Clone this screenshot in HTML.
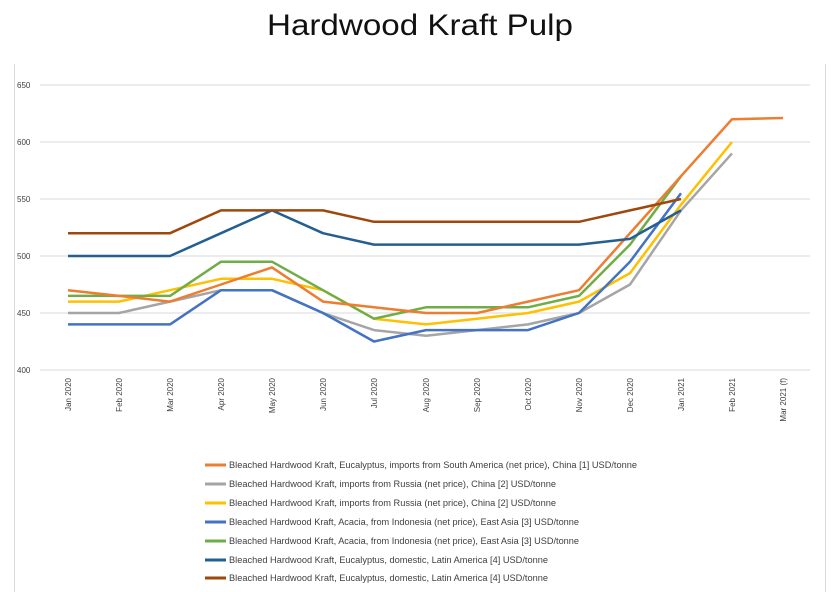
<!DOCTYPE html>
<html><head><meta charset="utf-8"><style>
body{margin:0;background:#fff;}
svg{display:block;font-family:"Liberation Sans",sans-serif;}
</style></head><body>
<svg width="835" height="592" viewBox="0 0 835 592">
<rect x="0" y="0" width="835" height="592" fill="#fff"/>
<text x="420" y="35" text-anchor="middle" font-size="30" fill="#111" textLength="306" lengthAdjust="spacingAndGlyphs">Hardwood Kraft Pulp</text>
<line x1="14.5" y1="64" x2="14.5" y2="592" stroke="#d9d9d9"/>
<line x1="825.5" y1="64" x2="825.5" y2="592" stroke="#d9d9d9"/>
<g stroke="#d9d9d9" stroke-width="1">
<line x1="40" y1="85" x2="810" y2="85"/>
<line x1="40" y1="142" x2="810" y2="142"/>
<line x1="40" y1="199" x2="810" y2="199"/>
<line x1="40" y1="256" x2="810" y2="256"/>
<line x1="40" y1="313" x2="810" y2="313"/>
<line x1="40" y1="370" x2="810" y2="370"/>
</g>
<g font-size="8" fill="#404040">
<text x="17" y="88">650</text><text x="17" y="145">600</text><text x="17" y="202">550</text>
<text x="17" y="259">500</text><text x="17" y="316">450</text><text x="17" y="373">400</text>
</g>
<g font-size="8" fill="#404040" text-anchor="end">
<text transform="translate(71,378) rotate(-90)">Jan 2020</text>
<text transform="translate(122,378) rotate(-90)">Feb 2020</text>
<text transform="translate(173,378) rotate(-90)">Mar 2020</text>
<text transform="translate(224,378) rotate(-90)">Apr 2020</text>
<text transform="translate(275,378) rotate(-90)">May 2020</text>
<text transform="translate(326,378) rotate(-90)">Jun 2020</text>
<text transform="translate(377,378) rotate(-90)">Jul 2020</text>
<text transform="translate(429,378) rotate(-90)">Aug 2020</text>
<text transform="translate(480,378) rotate(-90)">Sep 2020</text>
<text transform="translate(531,378) rotate(-90)">Oct 2020</text>
<text transform="translate(582,378) rotate(-90)">Nov 2020</text>
<text transform="translate(633,378) rotate(-90)">Dec 2020</text>
<text transform="translate(684,378) rotate(-90)">Jan 2021</text>
<text transform="translate(735,378) rotate(-90)">Feb 2021</text>
<text transform="translate(786,378) rotate(-90)">Mar 2021 (f)</text>
</g>
<g fill="none" stroke-width="2.5" stroke-linejoin="round">
<polyline stroke="#a5a5a5" points="68,313 119,313 170,301.6 221,290.2 272,290.2 323,313 374,330.1 426,335.8 477,330.1 528,324.4 579,313 630,284.5 681,210.4 732,153.4"/>
<polyline stroke="#ffc000" points="68,301.6 119,301.6 170,290.2 221,278.8 272,278.8 323,290.2 374,318.7 426,324.4 477,318.7 528,313 579,301.6 630,273.1 681,204.7 732,142"/>
<polyline stroke="#4472c4" points="68,324.4 119,324.4 170,324.4 221,290.2 272,290.2 323,313 374,341.5 426,330.1 477,330.1 528,330.1 579,313 630,261.7 681,193.3"/>
<polyline stroke="#70ad47" points="68,295.9 119,295.9 170,295.9 221,261.7 272,261.7 323,290.2 374,318.7 426,307.3 477,307.3 528,307.3 579,295.9 630,244.6 681,176.2"/>
<polyline stroke="#ed7d31" points="68,290.2 119,295.9 170,301.6 221,284.5 272,267.4 323,301.6 374,307.3 426,313 477,313 528,301.6 579,290.2 630,233.2 681,176.2 732,119.2 783,118"/>
<polyline stroke="#255e91" points="68,256 119,256 170,256 221,233.2 272,210.4 323,233.2 374,244.6 426,244.6 477,244.6 528,244.6 579,244.6 630,238.9 681,210.4"/>
<polyline stroke="#9e480e" points="68,233.2 119,233.2 170,233.2 221,210.4 272,210.4 323,210.4 374,221.8 426,221.8 477,221.8 528,221.8 579,221.8 630,210.4 681,199"/>
</g>
<g stroke-width="3">
<line x1="205" y1="465" x2="226" y2="465" stroke="#ed7d31"/>
<line x1="205" y1="484" x2="226" y2="484" stroke="#a5a5a5"/>
<line x1="205" y1="503" x2="226" y2="503" stroke="#ffc000"/>
<line x1="205" y1="522" x2="226" y2="522" stroke="#4472c4"/>
<line x1="205" y1="541" x2="226" y2="541" stroke="#70ad47"/>
<line x1="205" y1="560" x2="226" y2="560" stroke="#255e91"/>
<line x1="205" y1="578" x2="226" y2="578" stroke="#9e480e"/>
</g>
<g font-size="9" fill="#404040">
<text x="229" y="468" textLength="408" lengthAdjust="spacingAndGlyphs">Bleached Hardwood Kraft, Eucalyptus, imports from South America (net price),  China [1] USD/tonne</text>
<text x="229" y="487" textLength="327" lengthAdjust="spacingAndGlyphs">Bleached Hardwood Kraft, imports from Russia (net price),  China [2] USD/tonne</text>
<text x="229" y="506" textLength="327" lengthAdjust="spacingAndGlyphs">Bleached Hardwood Kraft, imports from Russia (net price),  China [2] USD/tonne</text>
<text x="229" y="525" textLength="350" lengthAdjust="spacingAndGlyphs">Bleached Hardwood Kraft, Acacia, from Indonesia (net price),  East Asia [3] USD/tonne</text>
<text x="229" y="544" textLength="350" lengthAdjust="spacingAndGlyphs">Bleached Hardwood Kraft, Acacia, from Indonesia (net price),  East Asia [3] USD/tonne</text>
<text x="229" y="563" textLength="319" lengthAdjust="spacingAndGlyphs">Bleached Hardwood Kraft, Eucalyptus, domestic,  Latin America [4] USD/tonne</text>
<text x="229" y="581" textLength="319" lengthAdjust="spacingAndGlyphs">Bleached Hardwood Kraft, Eucalyptus, domestic,  Latin America [4] USD/tonne</text>
</g>
</svg>
</body></html>
